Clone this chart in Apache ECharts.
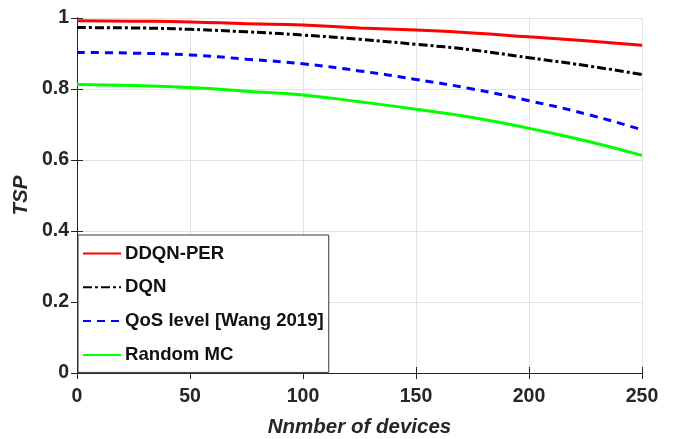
<!DOCTYPE html>
<html>
<head>
<meta charset="utf-8">
<script src="https://cdn.jsdelivr.net/npm/echarts@6/dist/echarts.min.js"></script>
<style>
html,body{margin:0;padding:0;background:#fff;}
#c{width:675px;height:439px;}
</style>
</head>
<body>
<div id="c"></div>
<script>
var devices = [0, 25, 50, 75, 100, 125, 150, 175, 200, 225, 250];
var ddqnPer = [0.992, 0.991, 0.989, 0.984, 0.980, 0.972, 0.966, 0.958, 0.947, 0.936, 0.923];
var dqn     = [0.973, 0.972, 0.968, 0.961, 0.952, 0.940, 0.926, 0.910, 0.888, 0.866, 0.841];
var qos     = [0.903, 0.901, 0.896, 0.884, 0.871, 0.851, 0.827, 0.800, 0.767, 0.730, 0.685];
var randomMc= [0.813, 0.810, 0.804, 0.794, 0.783, 0.764, 0.743, 0.720, 0.689, 0.654, 0.613];
var seriesNames = ['DDQN-PER', 'DQN', 'QoS level [Wang 2019]', 'Random MC'];
var xTicks = [0, 50, 100, 150, 200, 250];
var yTicks = [0, 0.2, 0.4, 0.6, 0.8, 1];

function pairs(ys){ return devices.map(function(x,i){ return [x, ys[i]]; }); }

var FONT = '"Liberation Sans", Arial, sans-serif';
var TXT = '#262626';

var chart = echarts.init(document.getElementById('c'));
var axisLine = {show:true, lineStyle:{color:TXT, width:1}};
chart.setOption({
  animation:false,
  backgroundColor:'#fff',
  grid:{left:77, right:33, top:18, bottom:66, containLabel:false, outerBoundsMode:'none'},
  legend:{
    orient:'vertical', left:78, top:235,
    itemWidth:38, itemHeight:14, itemGap:14.8,
    padding:[9,5,8,4],
    borderColor:'#3a3a3a', borderWidth:1, backgroundColor:'#fff',
    itemStyle:{opacity:0},
    textStyle:{fontFamily:FONT, fontWeight:'bold', fontSize:18.6, color:'#111', padding:[0,0,0,-1]},
    data:seriesNames
  },
  xAxis:[{
    type:'value', min:xTicks[0], max:xTicks[xTicks.length-1], interval:50, position:'bottom',
    name:'Nnmber of devices', nameLocation:'middle', nameGap:44,
    nameTextStyle:{fontFamily:FONT, fontWeight:'bold', fontStyle:'italic', fontSize:20.5, color:TXT},
    axisLine:axisLine, axisTick:{show:true, inside:true, length:6, lineStyle:{color:TXT}},
    axisLabel:{fontFamily:FONT, fontWeight:'bold', fontSize:19.5, color:TXT, margin:14},
    splitLine:{show:true, lineStyle:{color:'#e3e3e3', width:1}}
  },{
    type:'value', min:0, max:250, interval:50, position:'top',
    axisLine:axisLine, axisTick:{show:true, inside:true, length:6, lineStyle:{color:TXT}},
    axisLabel:{show:false}, splitLine:{show:false}
  }],
  yAxis:[{
    type:'value', min:yTicks[0], max:yTicks[yTicks.length-1], interval:0.2, position:'left',
    name:'TSP', nameLocation:'middle', nameGap:44, nameRotate:90,
    nameTextStyle:{fontFamily:FONT, fontWeight:'bold', fontStyle:'italic', fontSize:20.5, color:TXT},
    axisLine:axisLine, axisTick:{show:true, inside:true, length:6, lineStyle:{color:TXT}},
    axisLabel:{fontFamily:FONT, fontWeight:'bold', fontSize:19.5, color:TXT, margin:8},
    splitLine:{show:true, lineStyle:{color:'#e3e3e3', width:1}}
  },{
    type:'value', min:0, max:1, interval:0.2, position:'right',
    axisLine:axisLine, axisTick:{show:true, inside:true, length:6, lineStyle:{color:TXT}},
    axisLabel:{show:false}, splitLine:{show:false}
  }],
  series:[
    {name:seriesNames[0], type:'line', smooth:true, symbol:'none', data:pairs(ddqnPer),
     lineStyle:{color:'#ff0000', width:3}, itemStyle:{color:'#ff0000'}, z:5},
    {name:seriesNames[1], type:'line', smooth:true, symbol:'none', data:pairs(dqn),
     lineStyle:{color:'#000000', width:3, type:[9,3,3,3]}, itemStyle:{color:'#000000'}, z:4},
    {name:seriesNames[2], type:'line', smooth:true, symbol:'none', data:pairs(qos),
     lineStyle:{color:'#0000ff', width:3, type:[8,6]}, itemStyle:{color:'#0000ff'}, z:3},
    {name:seriesNames[3], type:'line', smooth:true, symbol:'none', data:pairs(randomMc),
     lineStyle:{color:'#00ff00', width:3}, itemStyle:{color:'#00ff00'}, z:2}
  ]
});
</script>
</body>
</html>
